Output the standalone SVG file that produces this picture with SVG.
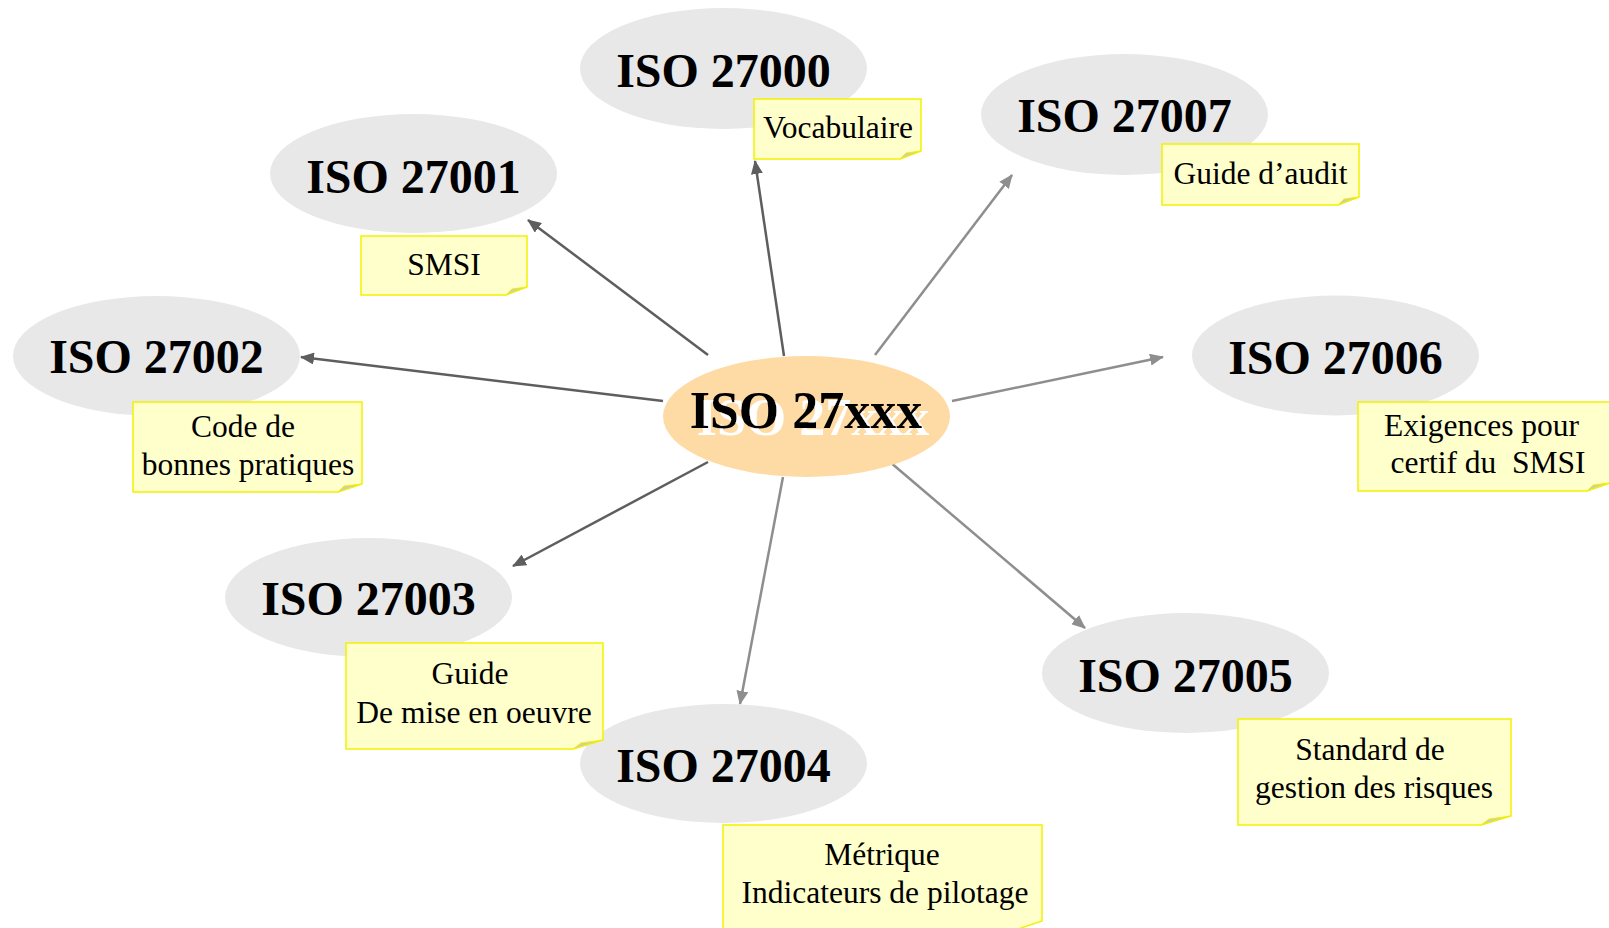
<svg xmlns="http://www.w3.org/2000/svg" width="1609" height="928" viewBox="0 0 1609 928">
<style>
.bg{fill:#ffffff}
.node{fill:#e8e8e8}
.center{fill:#fedba4}
.title{font-family:"Liberation Serif","Times New Roman",serif;font-weight:bold;font-size:48px;fill:#000;text-anchor:middle}
.ctitle{font-family:"Liberation Serif","Times New Roman",serif;font-weight:bold;font-size:52px;text-anchor:middle;fill:#000}
.note{fill:#ffffcc;stroke:#f2f200;stroke-width:1.5}
.fold{fill:#cfcfb0;stroke:#f2f200;stroke-width:1}
.ntext{font-family:"Liberation Serif","Times New Roman",serif;font-size:31.5px;fill:#000;text-anchor:middle}
.dark{stroke:#5e5e5e;stroke-width:2.5;fill:none}
.light{stroke:#8e8e8e;stroke-width:2.5;fill:none}
</style>
<defs>
<marker id="ad" markerUnits="userSpaceOnUse" markerWidth="14" markerHeight="12" refX="13" refY="6" orient="auto">
<path d="M0,0 L14,6 L0,12 Z" fill="#5e5e5e"/>
</marker>
<marker id="al" markerUnits="userSpaceOnUse" markerWidth="14" markerHeight="12" refX="13" refY="6" orient="auto">
<path d="M0,0 L14,6 L0,12 Z" fill="#8e8e8e"/>
</marker>
<filter id="wshadow" x="-10%" y="-20%" width="130%" height="150%">
<feOffset in="SourceAlpha" dx="7" dy="7" result="off"/>
<feFlood flood-color="#ffffff"/>
<feComposite in2="off" operator="in" result="sh"/>
<feMerge><feMergeNode in="sh"/><feMergeNode in="SourceGraphic"/></feMerge>
</filter>
</defs>
<rect class="bg" x="0" y="0" width="1609" height="928"/>
<g id="connectors">
<line class="dark" x1="784" y1="356" x2="755" y2="161" marker-end="url(#ad)"/>
<line class="dark" x1="708" y1="355" x2="528" y2="220" marker-end="url(#ad)"/>
<line class="dark" x1="663" y1="401" x2="301" y2="357" marker-end="url(#ad)"/>
<line class="dark" x1="708" y1="462" x2="513" y2="566" marker-end="url(#ad)"/>
<line class="light" x1="783" y1="477" x2="740" y2="704" marker-end="url(#al)"/>
<line class="light" x1="890" y1="462" x2="1085" y2="628" marker-end="url(#al)"/>
<line class="light" x1="952" y1="401" x2="1163" y2="357" marker-end="url(#al)"/>
<line class="light" x1="875" y1="355" x2="1012" y2="175" marker-end="url(#al)"/>
</g>
<g id="n27xxx">
<ellipse class="center" cx="806.5" cy="416.5" rx="143.5" ry="60.5"/>
<text class="ctitle" x="806" y="428" filter="url(#wshadow)">ISO 27xxx</text>
</g>
<g id="n27004">
<ellipse class="node" cx="723.5" cy="763.5" rx="143.5" ry="59.5"/>
<text class="title" x="723.5" y="782">ISO 27004</text>
<path class="note" d="M723,825 H1042 V921 L1012,931 H723 Z"/>
<text class="ntext" x="882" y="865">Métrique</text>
<text class="ntext" x="885" y="903">Indicateurs de pilotage</text>
</g>
<g id="n27000">
<ellipse class="node" cx="723.5" cy="68.5" rx="143.5" ry="60.5"/>
<text class="title" x="723.5" y="87">ISO 27000</text>
<path class="note" d="M754,99 H921 V151 L900,159 H754 Z"/>
<path class="fold" d="M900,159 L921,151 L906,153 Z"/>
<text class="ntext" x="838" y="138">Vocabulaire</text>
</g>
<g id="n27001">
<ellipse class="node" cx="413.5" cy="173.5" rx="143.5" ry="59.5"/>
<text class="title" x="413.5" y="193">ISO 27001</text>
<path class="note" d="M361,236 H527 V287 L506,295 H361 Z"/>
<path class="fold" d="M506,295 L527,287 L512,289 Z"/>
<text class="ntext" x="444" y="275">SMSI</text>
</g>
<g id="n27002">
<ellipse class="node" cx="156.5" cy="356" rx="143.5" ry="60"/>
<text class="title" x="156.5" y="373">ISO 27002</text>
<path class="note" d="M133,402 H362 V484 L338,492 H133 Z"/>
<path class="fold" d="M338,492 L362,484 L344,486 Z"/>
<text class="ntext" x="243" y="437">Code de</text>
<text class="ntext" x="248" y="475">bonnes pratiques</text>
</g>
<g id="n27007">
<ellipse class="node" cx="1124.5" cy="114.5" rx="143.5" ry="60.5"/>
<text class="title" x="1124.5" y="132">ISO 27007</text>
<path class="note" d="M1162,144 H1359 V197 L1338,205 H1162 Z"/>
<path class="fold" d="M1338,205 L1359,197 L1344,199 Z"/>
<text class="ntext" x="1260.5" y="184">Guide d’audit</text>
</g>
<g id="n27006">
<ellipse class="node" cx="1335.5" cy="355.5" rx="143.5" ry="60"/>
<text class="title" x="1335.5" y="374">ISO 27006</text>
<path class="note" d="M1358,402 H1610 V483 L1587,491 H1358 Z"/>
<path class="fold" d="M1587,491 L1609,483 L1593,485 Z"/>
<text class="ntext" x="1481.5" y="436">Exigences pour</text>
<text class="ntext" x="1488" y="473" xml:space="preserve">certif du  SMSI</text>
</g>
<g id="n27003">
<ellipse class="node" cx="368.5" cy="597.5" rx="143.5" ry="59.5"/>
<text class="title" x="368.5" y="615">ISO 27003</text>
<path class="note" d="M346,643 H603 V740 L573,749 H346 Z"/>
<path class="fold" d="M573,749 L603,740 L581,743 Z"/>
<text class="ntext" x="470" y="684">Guide</text>
<text class="ntext" x="474" y="723">De mise en oeuvre</text>
</g>
<g id="n27005">
<ellipse class="node" cx="1185.5" cy="673" rx="143.5" ry="60"/>
<text class="title" x="1185.5" y="692">ISO 27005</text>
<path class="note" d="M1238,719 H1511 V816 L1481,825 H1238 Z"/>
<path class="fold" d="M1481,825 L1511,816 L1489,819 Z"/>
<text class="ntext" x="1370" y="760">Standard de</text>
<text class="ntext" x="1374" y="798">gestion des risques</text>
</g>
</svg>
